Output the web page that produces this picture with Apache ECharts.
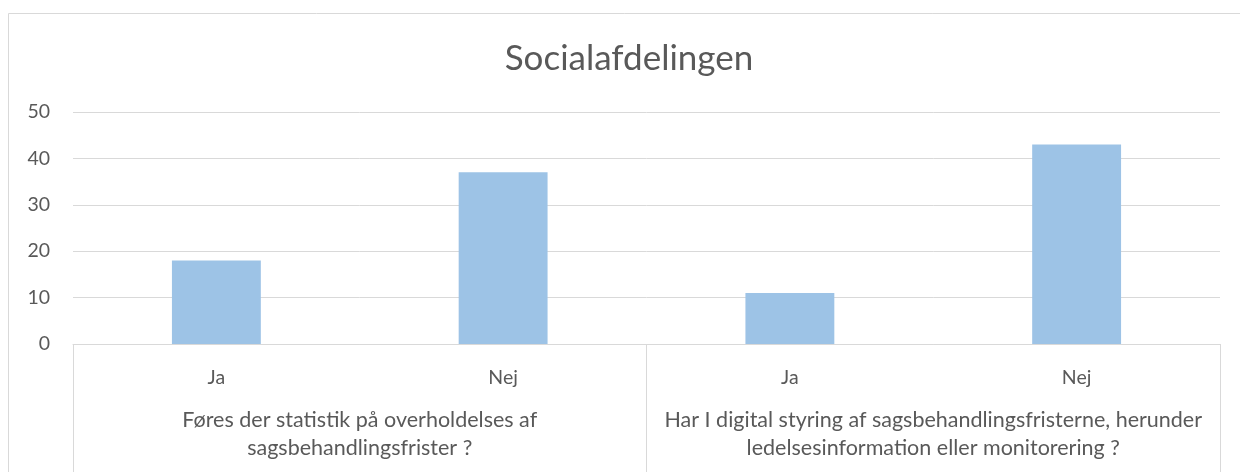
<!DOCTYPE html>
<html>
<head>
<meta charset="utf-8">
<script src="https://cdn.jsdelivr.net/npm/echarts@6/dist/echarts.min.js"></script>
<style>
  html, body { margin: 0; padding: 0; background: #ffffff; }
  #chart { width: 1240px; height: 472px; }
</style>
</head>
<body>
<div id="chart"></div>
<script>
// Survey answers per question
const answers = ['Ja', 'Nej', 'Ja', 'Nej'];
const questions = [
  'Føres der statistik på overholdelses af\nsagsbehandlingsfrister ?',
  'Har I digital styring af sagsbehandlingsfristerne, herunder\nledelsesinformation eller monitorering ?'
];
const counts = [18, 37, 11, 43];
const yTicks = [0, 10, 20, 30, 40, 50];

const FONT = 'Lato, "Open Sans", sans-serif';
const TEXT = '#595959';
const LINE = '#d9d9d9';

const chart = echarts.init(document.getElementById('chart'));
chart.setOption({
  animation: false,
  backgroundColor: '#ffffff',
  title: {
    text: 'Socialafdelingen',
    left: 624,
    top: 36,
    textAlign: 'center',
    textStyle: { fontFamily: FONT, fontSize: 35, fontWeight: 'normal', color: TEXT }
  },
  graphic: [{
    type: 'rect',
    shape: { x: 8.5, y: 13.5, width: 1260, height: 500 },
    style: { fill: 'none', stroke: LINE, lineWidth: 1 },
    silent: true,
    z: -1
  }],
  grid: { left: 73, right: 20, top: 112, bottom: 128 },
  xAxis: [
    {
      type: 'category',
      data: answers,
      position: 'bottom',
      axisLine: { show: true, lineStyle: { color: LINE, width: 1 } },
      axisTick: { show: false },
      axisLabel: {
        interval: 0, margin: 22, lineHeight: 24,
        fontFamily: FONT, fontSize: 19.5, color: TEXT
      }
    },
    {
      type: 'category',
      data: questions,
      position: 'bottom',
      axisLine: { show: false },
      axisTick: {
        show: true, interval: 0, alignWithLabel: false, length: 130,
        lineStyle: { color: LINE, width: 1 }
      },
      axisLabel: {
        interval: 0, margin: 62, lineHeight: 28, align: 'center',
        fontFamily: FONT, fontSize: 21.5, color: TEXT
      }
    }
  ],
  yAxis: {
    type: 'value',
    min: yTicks[0],
    max: yTicks[yTicks.length - 1],
    interval: 10,
    axisLine: { show: false },
    axisTick: { show: false },
    splitLine: { lineStyle: { color: LINE, width: 1 } },
    axisLabel: { margin: 23, fontFamily: FONT, fontSize: 19.5, color: TEXT }
  },
  series: [{
    type: 'bar',
    xAxisIndex: 0,
    data: counts,
    barWidth: '31%',
    itemStyle: { color: '#9dc3e6' }
  }]
});
</script>
</body>
</html>
